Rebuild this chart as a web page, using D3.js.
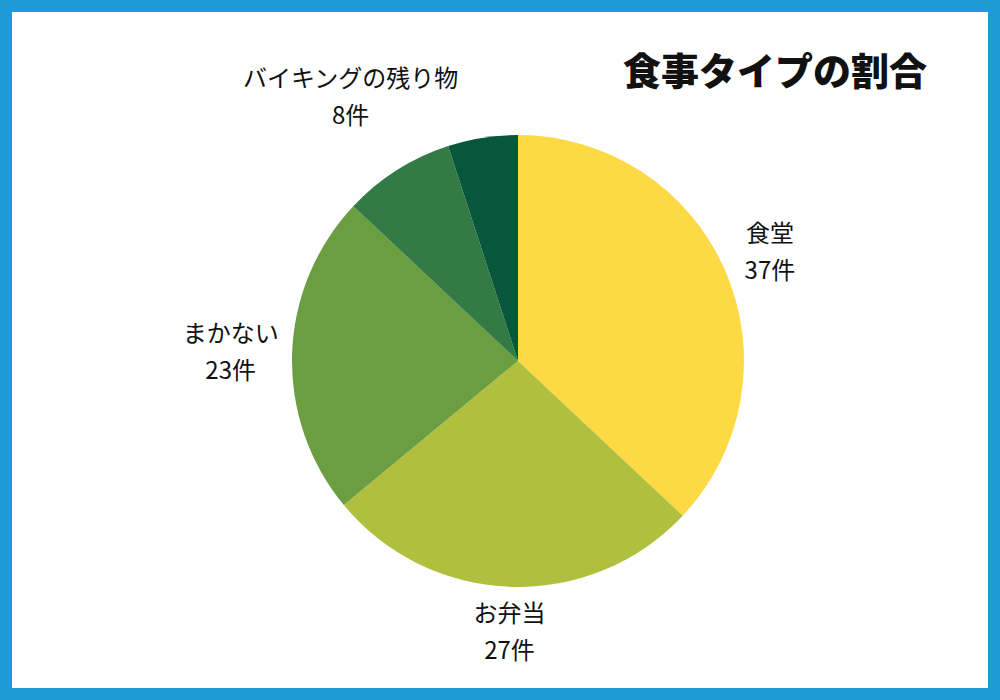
<!DOCTYPE html>
<html><head><meta charset="utf-8">
<script src="https://cdn.jsdelivr.net/npm/d3@7"></script>
<style>html,body{margin:0;padding:0;background:#fff;}svg{display:block;}</style>
</head><body>
<svg id="chart" width="1000" height="700"></svg>
<script>
const categories = ["食堂", "お弁当", "まかない", "バイキングの残り物", "その他"];
const values = [37, 27, 23, 8, 5];
const showLabel = [true, true, true, true, false];
const colors = ["#fdd944", "#b1bf3f", "#6b9e41", "#347a45", "#06573b"];
const unit = "件";
const title = "食事タイプの割合";

const W = 1000, H = 700;
const svg = d3.select("#chart");
svg.append("rect").attr("x", 6).attr("y", 6).attr("width", W - 12).attr("height", H - 12)
  .attr("fill", "#fff").attr("stroke", "#1e9bd7").attr("stroke-width", 12);

const cx = 518, cy = 361, R = 226;
const g = svg.append("g").attr("transform", `translate(${cx},${cy})`);
const data = categories.map((c, i) => ({cat: c, value: values[i], show: showLabel[i], color: colors[i]}));
const pie = d3.pie().value(d => d.value).sort(null);
const arc = d3.arc().innerRadius(0).outerRadius(R);
const arcs = pie(data);
g.selectAll("path").data(arcs).join("path").attr("d", arc).attr("fill", d => d.data.color);

const fontSize = 24, lineH = 37, gap = 13;
const fam = "'Noto Sans CJK JP', 'Noto Sans', sans-serif";
arcs.filter(a => a.data.show).forEach(a => {
  const mid = (a.startAngle + a.endAngle) / 2;
  const dx = Math.sin(mid), dy = -Math.cos(mid);
  const t = g.append("text").attr("font-family", fam).attr("font-size", fontSize)
    .attr("text-anchor", "middle").attr("fill", "#111");
  t.append("tspan").attr("x", 0).attr("dy", 0).text(a.data.cat);
  t.append("tspan").attr("x", 0).attr("dy", lineH).text(a.data.value + unit);
  const bb = t.node().getBBox();
  const hw = bb.width / 2, hh = 32;
  let r = R;
  for (; r < R + 300; r += 0.5) {
    const bx = r * dx, by = r * dy;
    const nx = Math.sign(bx) * Math.max(0, Math.abs(bx) - hw);
    const ny = Math.sign(by) * Math.max(0, Math.abs(by) - hh);
    if (Math.hypot(nx, ny) >= R + gap) break;
  }
  const px = r * dx, py = r * dy;
  t.attr("transform", `translate(${px},${py - lineH / 2 + fontSize * 0.35})`);
});

svg.append("text").attr("x", 775).attr("y", 85).attr("text-anchor", "middle")
  .attr("font-family", fam).attr("font-weight", 900).attr("font-size", 38)
  .attr("fill", "#111").text(title);
</script>
</body></html>
